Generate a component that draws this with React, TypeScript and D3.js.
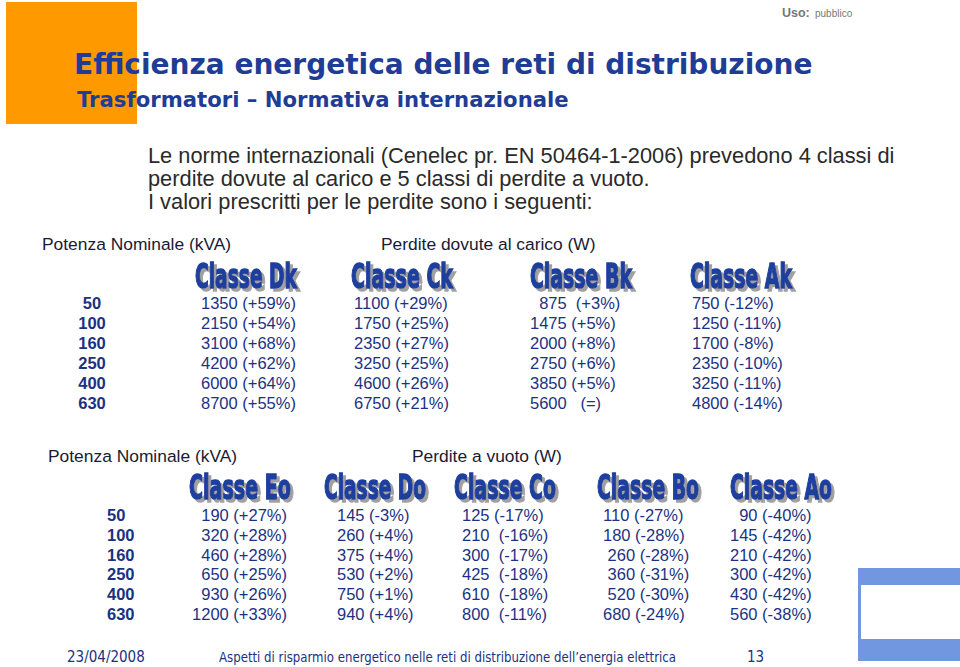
import * as d3 from "d3";

// top table: losses under load (W)
const powers = ["50", "100", "160", "250", "400", "630"];
const loadClasses = ["Classe Dk", "Classe Ck", "Classe Bk", "Classe Ak"];
const loadDk = ["1350 (+59%)", "2150 (+54%)", "3100 (+68%)", "4200 (+62%)", "6000 (+64%)", "8700 (+55%)"];
const loadCk = ["1100 (+29%)", "1750 (+25%)", "2350 (+27%)", "3250 (+25%)", "4600 (+26%)", "6750 (+21%)"];
const loadBk = ["  875  (+3%)", "1475 (+5%)", "2000 (+8%)", "2750 (+6%)", "3850 (+5%)", "5600   (=)"];
const loadAk = ["750 (-12%)", "1250 (-11%)", "1700 (-8%)", "2350 (-10%)", "3250 (-11%)", "4800 (-14%)"];

// bottom table: no-load losses (W)
const noLoadClasses = ["Classe Eo", "Classe Do", "Classe Co", "Classe Bo", "Classe Ao"];
const noLoadEo = ["190 (+27%)", "320 (+28%)", "460 (+28%)", "650 (+25%)", "930 (+26%)", "1200 (+33%)"];
const noLoadDo = ["145 (-3%)", "260 (+4%)", "375 (+4%)", "530 (+2%)", "750 (+1%)", "940 (+4%)"];
const noLoadCo = ["125 (-17%)", "210  (-16%)", "300  (-17%)", "425  (-18%)", "610  (-18%)", "800  (-11%)"];
const noLoadBo = ["110 (-27%)", "180 (-28%)", " 260 (-28%)", " 360 (-31%)", " 520 (-30%)", "680 (-24%)"];
const noLoadAo = ["  90 (-40%)", "145 (-42%)", "210 (-42%)", "300 (-42%)", "430 (-42%)", "560 (-38%)"];

const introLines = [
  "Le norme internazionali (Cenelec pr. EN 50464-1-2006) prevedono 4 classi di",
  "perdite dovute al carico e 5 classi di perdite a vuoto.",
  "I valori prescritti per le perdite sono i seguenti:",
];

const W = 960;
const H = 667;
const navy = "#1b3282";
const titleBlue = "#1f3c96";
const classBlue = "#1d3f9e";

// tall condensed label: small condensed bold text stretched vertically,
// grey drop shadow done with a filter so it stays one text
const ClassLabel = ({ x, y, label }: { x: number; y: number; label: string }) => (
  <text transform={`translate(${x},${y}) scale(1,1.6)`} x={0} y={0}
    fill={classBlue} stroke={classBlue} strokeWidth={0.9}
    filter="url(#classShadow)"
    fontFamily="'DejaVu Sans Condensed', 'Liberation Sans Narrow', sans-serif"
    fontWeight="bold" fontSize={21} textLength={102} lengthAdjust="spacingAndGlyphs">{label}</text>
);

const App = () => {
  // top table scales
  const yTop = d3.scalePoint<string>().domain(powers).range([309, 409]);
  const xTopClass = d3.scaleOrdinal<string, number>().domain(loadClasses).range([195, 351, 530, 690]);
  const xTopVal = d3.scaleOrdinal<string, number>().domain(loadClasses).range([201, 354, 530, 692]);
  const topCols = [loadDk, loadCk, loadBk, loadAk];

  // bottom table scales
  const yBot = d3.scalePoint<string>().domain(powers).range([521, 620]);
  const xBotClass = d3.scaleOrdinal<string, number>().domain(noLoadClasses).range([189, 324, 454, 597, 730]);
  const xBotVal = d3.scaleOrdinal<string, number>().domain(noLoadClasses).range([193, 337, 462, 603, 730]);
  const botCols = [noLoadEo, noLoadDo, noLoadCo, noLoadBo, noLoadAo];

  const yIntro = d3.scalePoint<number>().domain(d3.range(introLines.length)).range([163, 209]);

  const arial = "'Liberation Sans', Arial, sans-serif";
  const verdana = "'DejaVu Sans', Verdana, sans-serif";
  const tahoma = "'DejaVu Sans Condensed', Tahoma, sans-serif";
  const cell = 16.5;

  return (
    <svg width={W} height={H} viewBox={`0 0 ${W} ${H}`}
      style={{ position: "absolute", left: 0, top: 0, background: "#fff" }}>
      <defs>
        <filter id="classShadow" x="-10%" y="-20%" width="130%" height="150%">
          <feFlood floodColor="#a0a0a0" result="grey" />
          <feComposite in="grey" in2="SourceAlpha" operator="in" result="shape" />
          <feOffset in="shape" dx={3} dy={1.9} result="shadow" />
          <feMerge>
            <feMergeNode in="shadow" />
            <feMergeNode in="SourceGraphic" />
          </feMerge>
        </filter>
      </defs>
      <rect x={0} y={0} width={W} height={H} fill="#fff" />
      {/* orange block behind the title */}
      <rect x={6} y={2} width={131} height={122} fill="#ff9900" />

      <text x={782} y={17} fontFamily={arial} fontWeight="bold" fontSize={12.5} fill="#777">Uso:</text>
      <text x={815} y={17} fontFamily={arial} fontSize={10} fill="#777">pubblico</text>

      <text x={74} y={74} fontFamily={verdana} fontWeight="bold" fontSize={28} fill={titleBlue}>
        Efficienza energetica delle reti di distribuzione
      </text>
      <text x={77} y={107} fontFamily={verdana} fontWeight="bold" fontSize={21.2} fill={titleBlue}>
        Trasformatori – Normativa internazionale
      </text>

      {introLines.map((l, i) => (
        <text key={i} x={148} y={yIntro(i)} fontFamily={arial} fontSize={21.8} fill="#2a2a2a">{l}</text>
      ))}

      {/* load losses table */}
      <text x={42} y={250} fontFamily={arial} fontSize={17.4} fill="#1a1a33">Potenza Nominale (kVA)</text>
      <text x={381} y={250} fontFamily={arial} fontSize={17.4} fill="#1a1a33">Perdite dovute al carico  (W)</text>
      {loadClasses.map((c) => (
        <ClassLabel key={c} x={xTopClass(c)} y={287.5} label={c} />
      ))}
      {powers.map((p) => (
        <text key={p} x={92} y={yTop(p)} textAnchor="middle" fontFamily={arial} fontWeight="bold"
          fontSize={cell} fill={navy}>{p}</text>
      ))}
      {topCols.map((col, ci) =>
        col.map((v, ri) => (
          <text key={`${ci}-${ri}`} x={xTopVal(loadClasses[ci])} y={yTop(powers[ri])} fontFamily={arial}
            fontSize={cell} fill={navy} style={{ whiteSpace: "pre" }}>{v}</text>
        ))
      )}

      {/* no-load losses table */}
      <text x={48} y={462} fontFamily={arial} fontSize={17.4} fill="#1a1a33">Potenza Nominale (kVA)</text>
      <text x={412} y={462} fontFamily={arial} fontSize={17.4} fill="#1a1a33">Perdite a vuoto  (W)</text>
      {noLoadClasses.map((c) => (
        <ClassLabel key={c} x={xBotClass(c)} y={499} label={c} />
      ))}
      {powers.map((p) => (
        <text key={p} x={107} y={yBot(p)} fontFamily={arial} fontWeight="bold"
          fontSize={cell} fill={navy}>{p}</text>
      ))}
      {botCols.map((col, ci) =>
        col.map((v, ri) => (
          <text key={`${ci}-${ri}`} x={ci === 0 ? 287 : xBotVal(noLoadClasses[ci])} y={yBot(powers[ri])}
            textAnchor={ci === 0 ? "end" : "start"} fontFamily={arial}
            fontSize={cell} fill={navy} style={{ whiteSpace: "pre" }}>{v}</text>
        ))
      )}

      {/* corner decoration */}
      <rect x={858} y={568} width={102} height={17} fill="#7097e0" />
      <rect x={858} y={568} width={3} height={93} fill="#7097e0" />
      <rect x={858} y={639} width={102} height={22} fill="#7097e0" />

      {/* footer */}
      <text x={67} y={662} fontFamily={tahoma} fontSize={15} fill={navy}>23/04/2008</text>
      <text x={219} y={662} fontFamily={tahoma} fontSize={13.5} fill={navy}
        textLength={457} lengthAdjust="spacingAndGlyphs">
        Aspetti di risparmio energetico nelle reti di distribuzione dell’energia elettrica
      </text>
      <text x={747} y={662} fontFamily={tahoma} fontSize={15} fill={navy}>13</text>
    </svg>
  );
};

export default App;
